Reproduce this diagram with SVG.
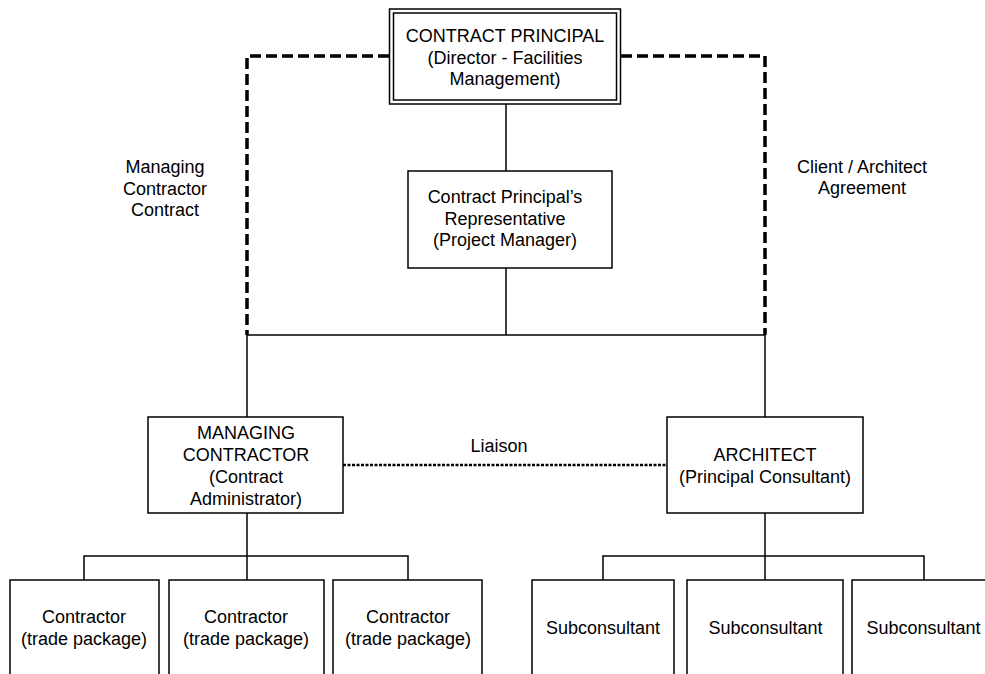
<svg xmlns="http://www.w3.org/2000/svg" width="985" height="674" viewBox="0 0 985 674">
  <style>
    .box { fill: #ffffff; stroke: #000000; stroke-width: 1.5; }
    .line { fill: none; stroke: #000000; stroke-width: 1.5; }
    .contract { fill: none; stroke: #000000; stroke-width: 3.5; stroke-dasharray: 11 5; }
    .liaison { fill: none; stroke: #000000; stroke-width: 2.5; stroke-dasharray: 3 1.5; }
    text { font-family: "Liberation Sans", Arial, sans-serif; font-size: 18px; fill: #000000; text-anchor: middle; }
  </style>
  <rect width="985" height="674" fill="#ffffff"/>

  <!-- connectors -->
  <g id="connectors">
    <!-- contractual relationships (heavy dashed) -->
    <path class="contract" d="M389,56 H247 V335"/>
    <path class="contract" d="M621,56 H765 V335"/>
    <!-- reporting lines -->
    <path class="line" d="M506,104 V171"/>
    <path class="line" d="M506,268 V335"/>
    <path class="line" d="M247,335 H765"/>
    <path class="line" d="M247,335 V417"/>
    <path class="line" d="M765,335 V417"/>
    <!-- liaison -->
    <path class="liaison" d="M343,465 H667"/>
    <!-- managing contractor to trade packages -->
    <path class="line" d="M247,513 V580"/>
    <path class="line" d="M84,580 V556 H408 V580"/>
    <!-- architect to subconsultants -->
    <path class="line" d="M765,513 V580"/>
    <path class="line" d="M603,580 V556 H924 V580"/>
  </g>

  <!-- edge labels -->
  <g id="labels">
    <text x="165" y="173">Managing</text>
    <text x="165" y="195">Contractor</text>
    <text x="165" y="216">Contract</text>
    <text x="862" y="173">Client / Architect</text>
    <text x="862" y="194">Agreement</text>
    <text x="499" y="452">Liaison</text>
  </g>

  <g id="contract-principal">
    <rect class="box" x="389.5" y="9" width="231" height="95"/>
    <rect class="box" x="393.5" y="13" width="223" height="87"/>
    <text x="505" y="42">CONTRACT PRINCIPAL</text>
    <text x="505" y="63.5">(Director - Facilities</text>
    <text x="505" y="85">Management)</text>
  </g>

  <g id="principal-representative">
    <rect class="box" x="408" y="171" width="204" height="97"/>
    <text x="505" y="203">Contract Principal’s</text>
    <text x="505" y="224.5">Representative</text>
    <text x="505" y="246">(Project Manager)</text>
  </g>

  <g id="managing-contractor">
    <rect class="box" x="148" y="417" width="195" height="96"/>
    <text x="246" y="439">MANAGING</text>
    <text x="246" y="461">CONTRACTOR</text>
    <text x="246" y="483">(Contract</text>
    <text x="246" y="505">Administrator)</text>
  </g>

  <g id="architect">
    <rect class="box" x="667" y="417" width="196" height="96"/>
    <text x="765" y="461">ARCHITECT</text>
    <text x="765" y="483">(Principal Consultant)</text>
  </g>

  <g id="contractor-1">
    <rect class="box" x="10" y="580" width="149" height="120"/>
    <text x="84" y="623">Contractor</text>
    <text x="84" y="645">(trade package)</text>
  </g>
  <g id="contractor-2">
    <rect class="box" x="169" y="580" width="155" height="120"/>
    <text x="246" y="623">Contractor</text>
    <text x="246" y="645">(trade package)</text>
  </g>
  <g id="contractor-3">
    <rect class="box" x="333" y="580" width="149" height="120"/>
    <text x="408" y="623">Contractor</text>
    <text x="408" y="645">(trade package)</text>
  </g>

  <g id="subconsultant-1">
    <rect class="box" x="532" y="580" width="142" height="120"/>
    <text x="603" y="634">Subconsultant</text>
  </g>
  <g id="subconsultant-2">
    <rect class="box" x="687" y="580" width="156" height="120"/>
    <text x="765.5" y="634">Subconsultant</text>
  </g>
  <g id="subconsultant-3">
    <rect class="box" x="852" y="580" width="144" height="120"/>
    <text x="923.5" y="634">Subconsultant</text>
  </g>
</svg>
